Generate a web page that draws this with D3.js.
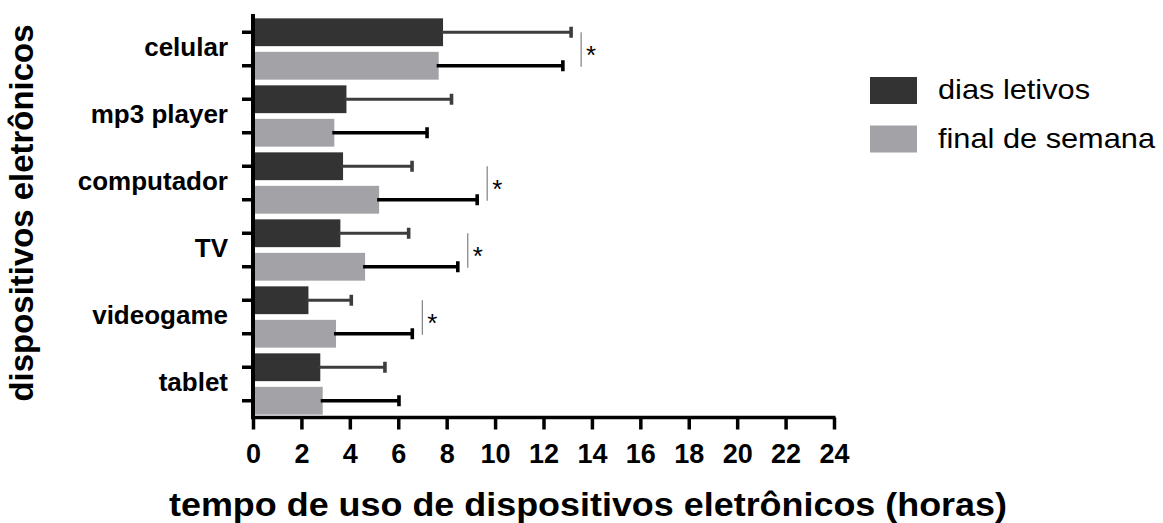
<!DOCTYPE html>
<html>
<head>
<meta charset="utf-8">
<script src="https://cdn.jsdelivr.net/npm/d3@7"></script>
<style>
  html, body { margin: 0; padding: 0; background: #fff; }
  svg { display: block; }
  text { font-family: "Liberation Sans", Arial, Helvetica, sans-serif; }
</style>
</head>
<body>
<svg id="chart" width="1163" height="523"></svg>
<script>
// Device categories (top to bottom)
const categories = ["celular", "mp3 player", "computador", "TV", "videogame", "tablet"];
// Mean daily hours of use
const diasLetivos = [7.85, 3.86, 3.72, 3.61, 2.29, 2.78];
const finalSemana = [7.67, 3.36, 5.21, 4.63, 3.43, 2.88];
// Standard deviations (upper whiskers)
const sdLetivos = [5.29, 4.34, 2.85, 2.82, 1.77, 2.67];
const sdSemana = [5.13, 3.83, 4.05, 3.83, 3.15, 3.15];
// Significant weekday vs weekend difference
const significant = [true, false, true, true, true, false];
// Series and axis ticks
const seriesNames = ["dias letivos", "final de semana"];
const xTicks = [0, 2, 4, 6, 8, 10, 12, 14, 16, 18, 20, 22, 24];

const colors = { "dias letivos": "#333333", "final de semana": "#a3a3a7" };
const errColors = { "dias letivos": "#3d3d3d", "final de semana": "#000000" };
const errWidth = { "dias letivos": 2.8, "final de semana": 3.6 };

const rows = [];
categories.forEach((c, i) => {
  rows.push({ cat: c, series: seriesNames[0], key: c + "|0", value: diasLetivos[i], sd: sdLetivos[i] });
  rows.push({ cat: c, series: seriesNames[1], key: c + "|1", value: finalSemana[i], sd: sdSemana[i] });
});

const svg = d3.select("#chart");

const x = d3.scaleLinear().domain([0, 24]).range([253, 834]);
const y = d3.scaleBand()
  .domain(rows.map(d => d.key))
  .range([15.5, 417.5])
  .paddingInner(0.17)
  .paddingOuter(0.085);

const yMid = d => y(d) + y.bandwidth() / 2;

// bars
svg.append("g").selectAll("rect")
  .data(rows)
  .join("rect")
  .attr("x", x(0))
  .attr("y", d => y(d.key))
  .attr("width", d => x(d.value) - x(0))
  .attr("height", y.bandwidth())
  .attr("fill", d => colors[d.series]);

// error bars
const eb = svg.append("g").selectAll("g").data(rows).join("g");
eb.append("line")
  .attr("x1", d => x(d.value) - 2)
  .attr("x2", d => x(d.value + d.sd))
  .attr("y1", d => yMid(d.key))
  .attr("y2", d => yMid(d.key))
  .attr("stroke", d => errColors[d.series])
  .attr("stroke-width", d => errWidth[d.series]);
eb.append("line")
  .attr("x1", d => x(d.value + d.sd))
  .attr("x2", d => x(d.value + d.sd))
  .attr("y1", d => yMid(d.key) - 5.5)
  .attr("y2", d => yMid(d.key) + 5.5)
  .attr("stroke", d => errColors[d.series])
  .attr("stroke-width", 3.6);

// significance markers
categories.forEach((c, i) => {
  if (!significant[i]) return;
  const top = yMid(c + "|0"), bottom = yMid(c + "|1");
  const lx = Math.max(x(diasLetivos[i] + sdLetivos[i]), x(finalSemana[i] + sdSemana[i])) + 10;
  svg.append("line")
    .attr("x1", lx).attr("x2", lx)
    .attr("y1", top).attr("y2", bottom + 1)
    .attr("stroke", "#666").attr("stroke-width", 1);
  svg.append("text")
    .attr("x", lx + 5)
    .attr("y", (top + bottom) / 2 + 15)
    .attr("font-size", 26)
    .attr("fill", "#000")
    .text("*");
});

// y axis
const yAxis = svg.append("g")
  .attr("transform", `translate(${x(0)},0)`)
  .call(d3.axisLeft(y).tickSize(11).tickFormat(""));
yAxis.select(".domain").attr("d", `M0,14V417.5`).attr("stroke", "#000").attr("stroke-width", 4);
yAxis.selectAll(".tick line").attr("stroke", "#000").attr("stroke-width", 3.5);

// category labels
svg.append("g").selectAll("text")
  .data(categories)
  .join("text")
  .attr("x", 228)
  .attr("y", c => (yMid(c + "|0") + yMid(c + "|1")) / 2 + 6.5)
  .attr("text-anchor", "end")
  .attr("font-size", 26)
  .attr("font-weight", "bold")
  .attr("fill", "#000")
  .text(c => c);

// x axis
const xAxis = svg.append("g")
  .attr("transform", "translate(0,417.5)")
  .call(d3.axisBottom(x).tickValues(xTicks).tickSize(12).tickPadding(14).tickFormat(d3.format("d")));
xAxis.select(".domain").attr("d", `M${x(0) - 2},0H${x(24) + 1.5}`).attr("stroke", "#000").attr("stroke-width", 3.5);
xAxis.selectAll(".tick line").attr("stroke", "#000").attr("stroke-width", 3.5);
xAxis.selectAll(".tick text")
  .attr("font-size", 27)
  .attr("font-weight", "bold")
  .attr("fill", "#000")
  .attr("font-family", "'Liberation Sans', Arial, sans-serif")
  .attr("dy", "0.71em");

// axis titles
svg.append("text")
  .attr("x", 588)
  .attr("y", 516)
  .attr("text-anchor", "middle")
  .attr("font-size", 33)
  .attr("font-weight", "bold")
  .attr("textLength", 838)
  .attr("lengthAdjust", "spacingAndGlyphs")
  .text("tempo de uso de dispositivos eletrônicos (horas)");

svg.append("text")
  .attr("transform", "translate(33,213) rotate(-90)")
  .attr("text-anchor", "middle")
  .attr("font-size", 33)
  .attr("font-weight", "bold")
  .attr("textLength", 377)
  .attr("lengthAdjust", "spacingAndGlyphs")
  .text("dispositivos eletrônicos");

// legend
const legend = svg.append("g");
const legendY = [77, 125.5];
const legendW = [152, 217];
seriesNames.forEach((s, i) => {
  legend.append("rect")
    .attr("x", 870).attr("y", legendY[i])
    .attr("width", 47).attr("height", 27)
    .attr("fill", colors[s]);
  legend.append("text")
    .attr("x", 938)
    .attr("y", legendY[i] + 22)
    .attr("font-size", 28)
    .attr("textLength", legendW[i])
    .attr("lengthAdjust", "spacingAndGlyphs")
    .attr("fill", "#000")
    .text(s);
});
</script>
</body>
</html>
